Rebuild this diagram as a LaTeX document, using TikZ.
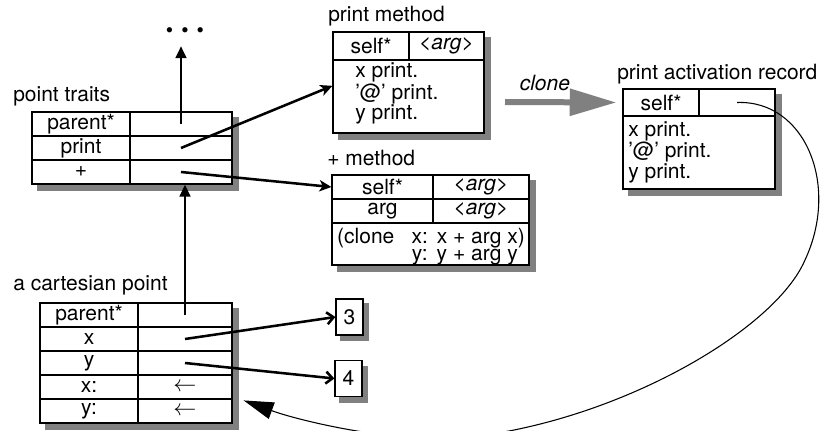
\documentclass[tikz,border=0pt]{standalone}
\usepackage{fontspec}
\setmainfont{TeX Gyre Heros}
\usetikzlibrary{arrows.meta}
\usetikzlibrary{backgrounds}
\usetikzlibrary{calc}
\definecolor{mshade}{gray}{0.5}
\newlength{\pix}
\setlength{\pix}{0.75pt}
\newcommand{\assign}{{\fontsize{19}{19}\selectfont$\leftarrow$}}

\begin{document}
\begin{tikzpicture}[x=0.75pt, y=-0.75pt,
        font=\fontsize{15.75}{14.3}\selectfont,
        cell/.style={draw, fill=white, line width=0.9pt, inner sep=0pt},
        wd/.style={minimum width=#1*\pix},
        ht/.style={minimum height=#1*\pix},
        title/.style={anchor=base west, inner sep=0pt},
        code/.style={anchor=north west, inner sep=0pt, align=left},
        boxshade/.style={fill=mshade},
        link/.style={line width=1.9pt, -{Stealth[length=9pt, width=8.5pt, inset=2.5pt]}},
        vallink/.style={line width=1.9pt, -{Straight Barb[length=5pt, width=9pt]}},
        rise/.style={line width=1.9pt, -{Triangle[length=9pt, width=8pt]}},
        backlink/.style={line width=0.8pt, -{Triangle[length=22.5pt, width=13pt]}},
        clonearrow/.style={mshade, line width=4.5pt, -{Triangle[length=35pt, width=19.5pt]}}]
      \useasboundingbox (0, 0) rectangle (820, 431);

      \node[inner sep=0pt] (more) at (185, 33) {\textbullet\hspace{6pt}\textbullet\hspace{6pt}\textbullet};

      % point traits
      \node[title] (pt-title) at (13, 101.5) {point traits};
      \node[cell, wd=98, ht=24] (pt-parent) at (81, 124) {parent*};
      \node[cell, wd=102, ht=24] (pt-parent-slot) at (181, 124) {};
      \node[cell, wd=98, ht=24] (pt-print) at (81, 148) {print};
      \node[cell, wd=102, ht=24] (pt-print-slot) at (181, 148) {};
      \node[cell, wd=98, ht=24] (pt-plus) at (81, 172) {+};
      \node[cell, wd=102, ht=24] (pt-plus-slot) at (181, 172) {};

      % a cartesian point
      \node[title] (cp-title) at (13, 290) {a cartesian point};
      \node[cell, wd=98, ht=24] (cp-parent) at (89, 315) {parent*};
      \node[cell, wd=94, ht=24] (cp-parent-slot) at (185, 315) {};
      \node[cell, wd=98, ht=24] (cp-x) at (89, 339) {x};
      \node[cell, wd=94, ht=24] (cp-x-slot) at (185, 339) {};
      \node[cell, wd=98, ht=24] (cp-y) at (89, 363) {y};
      \node[cell, wd=94, ht=24] (cp-y-slot) at (185, 363) {};
      \node[cell, wd=98, ht=24] (cp-xa) at (89, 387) {x:};
      \node[cell, wd=94, ht=24] (cp-xa-slot) at (185, 387) {\assign};
      \node[cell, wd=98, ht=24] (cp-ya) at (89, 411) {y:};
      \node[cell, wd=94, ht=24] (cp-ya-slot) at (185, 411) {\assign};

      % print method
      \node[title] (pm-title) at (328, 21.7) {print method};
      \node[cell, wd=76, ht=28] (pm-self) at (371, 46) {self*};
      \node[cell, wd=75, ht=28] (pm-arg) at (446.5, 46) {\textit{<arg>}};
      \node[cell, wd=151, ht=73] (pm-body) at (408.5, 96.5) {};
      \node[code] (pm-code) at (355, 62.5) {x print.\\'@' print.\\y print.};

      % + method
      \node[title] (plm-title) at (327, 166) {+ method};
      \node[cell, wd=101, ht=24] (plm-self) at (382.5, 187) {self*};
      \node[cell, wd=96, ht=24] (plm-self-arg) at (481, 187) {\textit{<arg>}};
      \node[cell, wd=101, ht=24] (plm-arg) at (382.5, 211) {arg};
      \node[cell, wd=96, ht=24] (plm-arg-arg) at (481, 211) {\textit{<arg>}};
      \node[cell, wd=197, ht=42] (plm-body) at (430.5, 244) {};
      \node[inner sep=0pt] (plm-code) at (431, 246.5) {\renewcommand{\arraystretch}{0.9}%
        \begin{tabular}{@{}l@{\hspace{13pt}}l@{\hspace{6.5pt}}l@{}}
          (clone & x: & x + arg x)\\
                 & y: & y + arg y
        \end{tabular}};

      % print activation record
      \node[title] (ar-title) at (617, 80) {print activation record};
      \node[cell, wd=76, ht=27] (ar-self) at (661, 102.5) {self*};
      \node[cell, wd=76, ht=27] (ar-slot) at (737, 102.5) {};
      \node[cell, wd=152, ht=73] (ar-body) at (699, 152.5) {};
      \node[code] (ar-code) at (628, 121) {x print.\\'@' print.\\y print.};

      % constants
      \node[cell, wd=27, ht=36] (num3) at (349.5, 317) {3};
      \node[cell, wd=27, ht=36] (num4) at (348.5, 378.5) {4};

      \begin{scope}[on background layer]
        \fill[boxshade] ($(pt-parent.north west)+(6,6)$) rectangle ($(pt-plus-slot.south east)+(6,6)$);
        \fill[boxshade] ($(cp-parent.north west)+(6,6)$) rectangle ($(cp-ya-slot.south east)+(6,6)$);
        \fill[boxshade] ($(pm-self.north west)+(6,6)$) rectangle ($(pm-body.south east)+(6,6)$);
        \fill[boxshade] ($(plm-self.north west)+(6,6)$) rectangle ($(plm-body.south east)+(6,6)$);
        \fill[boxshade] ($(ar-self.north west)+(6,6)$) rectangle ($(ar-body.south east)+(6,6)$);
        \fill[boxshade] ($(num3.north west)+(5,5)$) rectangle ($(num3.south east)+(5,5)$);
        \fill[boxshade] ($(num4.north west)+(5,6)$) rectangle ($(num4.south east)+(5,6)$);
      \end{scope}

      \draw[rise, shorten >=6pt] (pt-parent-slot.center) -- (pt-parent-slot.center |- more.south);
      \draw[rise] (cp-parent-slot.center) -- (cp-parent-slot.center |- pt-plus-slot.south);
      \draw[link] (pt-print-slot.center) -- (pm-body.172);
      \draw[link] (pt-plus-slot.center) -- (plm-self.west);
      \draw[vallink] (cp-x-slot.center) -- (num3.west);
      \draw[vallink] (cp-y-slot.center) -- (num4.west);

      \coordinate (clone-tail) at (505, 102);
      \draw[clonearrow, shorten >=4.5pt] (clone-tail) -- (ar-self.west)
        node[pos=0.34, above=3pt, black] {\itshape clone};

      \draw[backlink] (ar-slot.center) .. controls (805, 100) and (840, 185) .. (805, 260)
        .. controls (775, 330) and (620, 420) .. (470, 437)
        .. controls (400, 445) and (300, 421) .. ($(cp-ya-slot.north east)+(11, 2)$);
    \end{tikzpicture}
\end{document}
